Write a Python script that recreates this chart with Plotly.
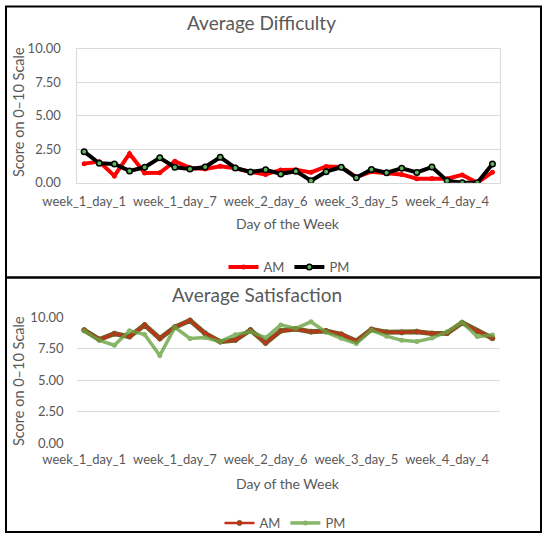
import plotly.graph_objects as go

days = [
    "week_1_day_1", "week_1_day_2", "week_1_day_3", "week_1_day_4", "week_1_day_5", "week_1_day_6", "week_1_day_7",
    "week_2_day_1", "week_2_day_2", "week_2_day_3", "week_2_day_4", "week_2_day_5", "week_2_day_6", "week_2_day_7",
    "week_3_day_1", "week_3_day_2", "week_3_day_3", "week_3_day_4", "week_3_day_5", "week_3_day_6", "week_3_day_7",
    "week_4_day_1", "week_4_day_2", "week_4_day_3", "week_4_day_4", "week_4_day_5", "week_4_day_6", "week_4_day_7",
]
tick_labels = ["week_1_day_1", "week_1_day_7", "week_2_day_6", "week_3_day_5", "week_4_day_4"]
y_ticks = [0, 2.5, 5, 7.5, 10]

difficulty_am = [1.42, 1.57, 0.5, 2.16, 0.72, 0.74, 1.6, 1.1, 1.02, 1.22, 1.08, 0.8, 0.62, 0.95,
                 0.97, 0.77, 1.2, 1.17, 0.42, 0.82, 0.7, 0.62, 0.3, 0.32, 0.3, 0.58, 0.0, 0.78]
difficulty_pm = [2.31, 1.45, 1.4, 0.88, 1.15, 1.85, 1.15, 1.03, 1.17, 1.9, 1.1, 0.8, 0.97, 0.65,
                 0.86, 0.15, 0.82, 1.15, 0.37, 0.99, 0.75, 1.08, 0.76, 1.17, 0.15, 0.0, 0.0, 1.4]
satisfaction_am = [8.97, 8.22, 8.68, 8.45, 9.37, 8.3, 9.2, 9.73, 8.7, 8.05, 8.18, 8.97, 7.95, 8.9,
                   9.05, 8.84, 8.9, 8.63, 8.1, 9.02, 8.8, 8.78, 8.84, 8.7, 8.72, 9.55, 8.88, 8.31]
satisfaction_pm = [8.9, 8.15, 7.77, 8.92, 8.62, 6.95, 9.18, 8.3, 8.37, 8.05, 8.6, 8.85, 8.35, 9.37,
                   9.1, 9.62, 8.8, 8.31, 7.9, 8.95, 8.48, 8.15, 8.07, 8.33, 8.84, 9.58, 8.45, 8.58]

W, H = 550, 539
FONT = "Lato"
GRAY = "#595959"
GRID = "#d9d9d9"


def px(x):
    return x / W


def py(y):
    return 1 - y / H


fig = go.Figure()

# Top chart: Average Difficulty
fig.add_trace(go.Scatter(x=days, y=difficulty_am, name="AM", mode="lines+markers",
                         line=dict(color="#ff0000", width=4),
                         marker=dict(symbol="circle", size=5, color="#ff0000"),
                         xaxis="x", yaxis="y", legend="legend"))
fig.add_trace(go.Scatter(x=days, y=difficulty_pm, name="PM", mode="lines+markers",
                         line=dict(color="#000000", width=4),
                         marker=dict(symbol="circle", size=5.5, color="#5cb85c",
                                     line=dict(color="#000000", width=1.5)),
                         xaxis="x", yaxis="y", legend="legend"))

# Bottom chart: Average Satisfaction
fig.add_trace(go.Scatter(x=days, y=satisfaction_am, name="AM", mode="lines",
                         line=dict(color="#6e5f24", width=5), showlegend=False,
                         hoverinfo="skip", xaxis="x2", yaxis="y2"))
fig.add_trace(go.Scatter(x=days, y=satisfaction_am, name="AM", mode="lines+markers",
                         line=dict(color="#c3311d", width=2.5),
                         marker=dict(symbol="circle", size=5, color="#c3311d",
                                     line=dict(color="#6e5f24", width=1)),
                         xaxis="x2", yaxis="y2", legend="legend2"))
fig.add_trace(go.Scatter(x=days, y=satisfaction_pm, name="PM", mode="lines+markers",
                         line=dict(color="#6aa444", width=3.5),
                         marker=dict(symbol="circle", size=5, color="#6aa444"),
                         opacity=0.8,
                         xaxis="x2", yaxis="y2", legend="legend2"))

xdom = [px(76.6), px(500)]
common_x = dict(type="category", categoryorder="array", categoryarray=days,
                range=[-0.5, len(days) - 0.5],
                tickmode="array", tickvals=tick_labels, ticktext=tick_labels,
                tickfont=dict(family=FONT, size=13, color=GRAY),
                ticks="", showgrid=False, zeroline=False, ticklabelstandoff=7,
                domain=xdom, fixedrange=True, automargin=False)
common_y = dict(range=[0, 10], tickmode="array", tickvals=y_ticks, tickformat=".2f",
                tickfont=dict(family=FONT, size=13, color=GRAY),
                showgrid=True, gridcolor=GRID, gridwidth=1.3, zeroline=False,
                ticks="", ticklabelstandoff=12, fixedrange=True, automargin=False)

fig.update_layout(
    width=W, height=H, autosize=False,
    margin=dict(l=0, r=0, t=0, b=0, pad=0, autoexpand=False),
    paper_bgcolor="white", plot_bgcolor="white",
    font=dict(family=FONT, color=GRAY),
    xaxis=dict(**common_x, anchor="y", showline=True, linecolor=GRID, linewidth=1.3, mirror=True),
    yaxis=dict(**common_y, anchor="x", domain=[py(182.7), py(48.5)],
               showline=True, linecolor=GRID, linewidth=1.3, mirror=True),
    xaxis2=dict(**common_x, anchor="y2", showline=False),
    yaxis2=dict(**common_y, anchor="x2", domain=[py(443.3), py(317)], showline=False),
    legend=dict(orientation="h", x=px(289), y=py(267), xanchor="center", yanchor="middle",
                font=dict(family=FONT, size=13, color=GRAY), bgcolor="rgba(0,0,0,0)",
                itemwidth=30, tracegroupgap=0),
    legend2=dict(orientation="h", x=px(285), y=py(523), xanchor="center", yanchor="middle",
                 font=dict(family=FONT, size=13, color=GRAY), bgcolor="rgba(0,0,0,0)",
                 itemwidth=30, tracegroupgap=0),
    showlegend=True,
)

annotations = [
    dict(text="Average Difficulty", x=px(261), y=py(23), font=dict(size=19)),
    dict(text="Average Satisfaction", x=px(257), y=py(294), font=dict(size=19)),
    dict(text="Day of the Week", x=px(288), y=py(223), font=dict(size=14)),
    dict(text="Day of the Week", x=px(288), y=py(483), font=dict(size=14)),
    dict(text="Score on 0\u201310 Scale", x=px(18), y=py(112), textangle=-90, font=dict(size=14.5)),
    dict(text="Score on 0\u201310 Scale", x=px(18), y=py(381), textangle=-90, font=dict(size=14.5)),
]
for a in annotations:
    a.update(xref="paper", yref="paper", showarrow=False, xanchor="center", yanchor="middle")
    a["font"].update(family=FONT, color=GRAY)
fig.update_layout(annotations=annotations)

fig.add_shape(type="rect", xref="paper", yref="paper",
              x0=px(6), x1=px(541), y0=py(277.5), y1=py(6.5),
              line=dict(color="black", width=2))
fig.add_shape(type="rect", xref="paper", yref="paper",
              x0=px(6), x1=px(541), y0=py(532), y1=py(277.5),
              line=dict(color="black", width=2))

fig.write_html("out.html", config={"displayModeBar": False},
               post_script="document.body.style.margin='0';document.body.style.overflow='hidden';")
